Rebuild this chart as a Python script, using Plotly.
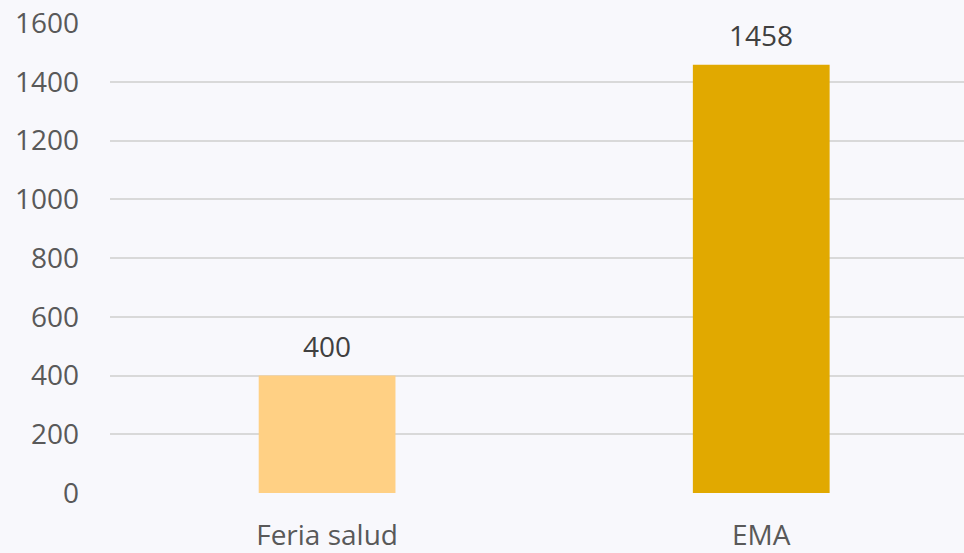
import plotly.graph_objects as go

categories = ["Feria salud", "EMA"]
values = [400, 1458]
colors = ["#FFD084", "#E1A900"]
tick_vals = [0, 200, 400, 600, 800, 1000, 1200, 1400, 1600]

fig = go.Figure()
fig.add_trace(go.Bar(
    x=categories, y=values, marker=dict(color=colors, line=dict(width=0)),
    width=0.315, hoverinfo="skip",
))
for c, v in zip(categories, values):
    fig.add_annotation(x=c, y=v, text=str(v), showarrow=False, yanchor="bottom",
                       yshift=9, font=dict(family="Open Sans", size=28, color="#404040"))

fig.update_layout(
    width=964, height=553,
    margin=dict(l=110, r=0, t=23, b=54, pad=0),
    paper_bgcolor="#F8F8FC", plot_bgcolor="#F8F8FC",
    showlegend=False,
    font=dict(family="Open Sans", size=28, color="#595959"),
    xaxis=dict(range=[-0.5, 1.467], showgrid=False, zeroline=False, showline=False,
               ticks="", ticklabelstandoff=23, tickfont=dict(size=28, color="#595959")),
    yaxis=dict(range=[0, 1600], tickvals=tick_vals, showgrid=True, gridcolor="#D9D9D9",
               gridwidth=1.5, zeroline=False, showline=False, ticks="",
               ticklabelstandoff=30, tickfont=dict(size=28, color="#595959")),
)
fig.write_html("out.html", config={"displayModeBar": False},
               post_script="document.body.style.margin='0';document.body.style.background='#F8F8FC';")
